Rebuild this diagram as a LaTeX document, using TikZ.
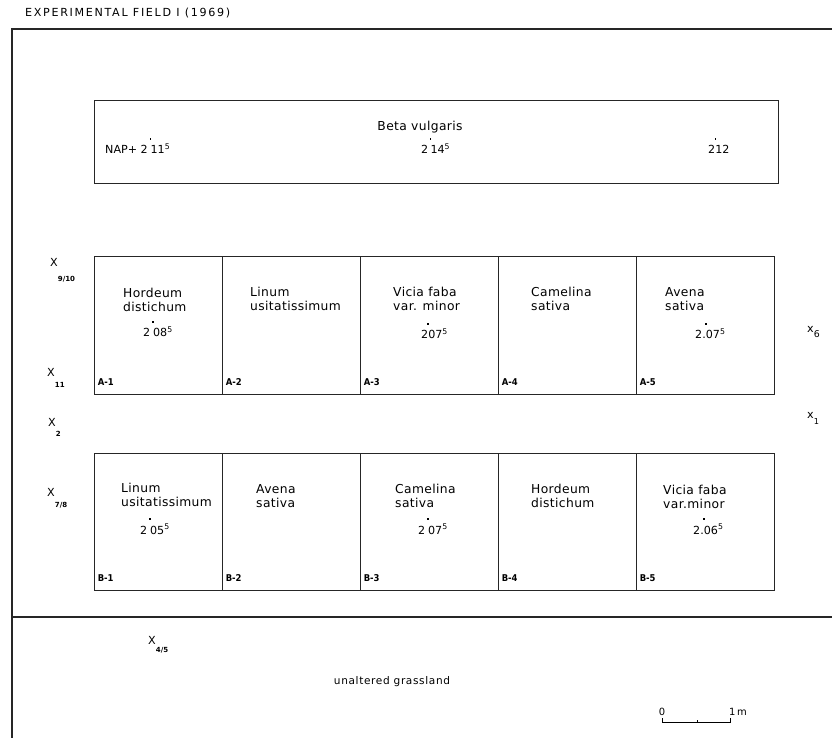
\documentclass[tikz,border=0pt]{standalone}
\usepackage{fontspec}
\setmainfont{DejaVu Sans}
\newfontfamily\condfont{DejaVu Sans Condensed}
\usetikzlibrary{positioning}
\newcommand\hdot{\makebox[0pt]{\raisebox{1.3em}{\rule{1.4pt}{1.4pt}}}}
\newcommand\stn[3][1em]{#2\raisebox{-#1}{\bfseries\fontsize{6}{7}\selectfont #3}}

\begin{document}
\begin{tikzpicture}[x=0.03cm,y=-0.03cm]
      \tikzstyle{parcel}=[rectangle, draw=black!85, line width=0.8pt, inner sep=0pt, outer sep=0pt, minimum width=4.14cm, minimum height=4.14cm]
      \tikzstyle{crop}=[anchor=north west, align=left, inner sep=0pt, font=\fontsize{10.5}{12}\selectfont\addfontfeature{LetterSpace=3}]
      \tikzstyle{yield}=[anchor=base west, inner sep=0pt, font=\fontsize{9.5}{11}\selectfont]
      \tikzstyle{parcelid}=[anchor=south west, inner sep=0pt, font=\condfont\bfseries\fontsize{8}{9}\selectfont]
      \tikzstyle{station}=[anchor=base west, inner sep=0pt, font=\fontsize{9.5}{10}\selectfont]
      \tikzstyle{border}=[line width=0.9pt, draw=black!85]

      \useasboundingbox (0,0) rectangle (832,738);

      % field border
      \node[anchor=west, inner sep=0pt, font=\fontsize{9.5}{10}\selectfont\addfontfeature{LetterSpace=15}] (title) at (25,13) {EXPERIMENTAL FIELD I (1969)};
      \draw[border] (832,29) -- (12,29) -- (12,738);
      \draw[border] (12,617) -- (832,617);

      % beet strip
      \node[parcel, anchor=north west, minimum width=20.52cm, minimum height=2.49cm] (beta) at (94,100) {};
      \node[inner sep=0pt, font=\fontsize{10.5}{12}\selectfont\addfontfeature{LetterSpace=3}] (betaname) at (420,127) {Beta vulgaris};
      \node[yield] (nap1) at (105,154) {NAP+ 2\hspace{.25em}\hdot11\textsuperscript{5}};
      \node[yield] (nap2) at (421,154) {2\hspace{.2em}\hdot14\textsuperscript{5}};
      \node[yield] (nap3) at (708,154) {2\hdot12};

      % row A
      \node[parcel, anchor=north west, minimum width=3.84cm] (A1) at (94,256) {};
      \node[parcel, right=0pt of A1] (A2) {};
      \node[parcel, right=0pt of A2] (A3) {};
      \node[parcel, right=0pt of A3] (A4) {};
      \node[parcel, right=0pt of A4] (A5) {};

      % row B
      \node[parcel, anchor=north west, minimum width=3.84cm, minimum height=4.11cm] (B1) at (94,453) {};
      \node[parcel, minimum height=4.11cm, right=0pt of B1] (B2) {};
      \node[parcel, minimum height=4.11cm, right=0pt of B2] (B3) {};
      \node[parcel, minimum height=4.11cm, right=0pt of B3] (B4) {};
      \node[parcel, minimum height=4.11cm, right=0pt of B4] (B5) {};

      \node[parcelid] at ([xshift=3pt,yshift=7pt]A1.south west) {A-1};
      \node[parcelid] at ([xshift=3pt,yshift=7pt]A2.south west) {A-2};
      \node[parcelid] at ([xshift=3pt,yshift=7pt]A3.south west) {A-3};
      \node[parcelid] at ([xshift=3pt,yshift=7pt]A4.south west) {A-4};
      \node[parcelid] at ([xshift=3pt,yshift=7pt]A5.south west) {A-5};
      \node[parcelid] at ([xshift=3pt,yshift=7pt]B1.south west) {B-1};
      \node[parcelid] at ([xshift=3pt,yshift=7pt]B2.south west) {B-2};
      \node[parcelid] at ([xshift=3pt,yshift=7pt]B3.south west) {B-3};
      \node[parcelid] at ([xshift=3pt,yshift=7pt]B4.south west) {B-4};
      \node[parcelid] at ([xshift=3pt,yshift=7pt]B5.south west) {B-5};

      % crops and yields
      \node[crop] (cA1) at (123,288) {Hordeum\\distichum};
      \node[crop] (cA2) at (250,287) {Linum\\usitatissimum};
      \node[crop] (cA3) at (393,287) {Vicia faba\\var. minor};
      \node[crop] (cA4) at (531,287) {Camelina\\sativa};
      \node[crop] (cA5) at (665,287) {Avena\\sativa};
      \node[crop] (cB1) at (121,483) {Linum\\usitatissimum};
      \node[crop] (cB2) at (256,484) {Avena\\sativa};
      \node[crop] (cB3) at (395,484) {Camelina\\sativa};
      \node[crop] (cB4) at (531,484) {Hordeum\\distichum};
      \node[crop] (cB5) at (663,485) {Vicia faba\\var.minor};

      \node[yield] (yA1) at (143,337) {2\hspace{.25em}\hdot08\textsuperscript{5}};
      \node[yield] (yA3) at (421,339) {2\hdot07\textsuperscript{5}};
      \node[yield] (yA5) at (695,339) {2.\hdot07\textsuperscript{5}};
      \node[yield] (yB1) at (140,534) {2\hspace{.25em}\hdot05\textsuperscript{5}};
      \node[yield] (yB3) at (418,534) {2\hspace{.25em}\hdot07\textsuperscript{5}};
      \node[yield] (yB5) at (693,534) {2.\hdot06\textsuperscript{5}};

      % sampling points
      \node[station] (p910) at (50,267) {\stn[1.3em]{X}{9/10}};
      \node[station] (p11) at (47,377) {\stn[0.95em]{X}{11}};
      \node[station] (p2) at (48,427) {\stn[0.85em]{X}{2}};
      \node[station] (p78) at (47,496) {\stn[1em]{X}{7/8}};
      \node[station] (p6) at (807,333) {\stn[0.4em]{x}{\mdseries\fontsize{8}{9}\selectfont 6}};
      \node[station] (p1) at (807,419) {\stn[0.5em]{x}{\mdseries\fontsize{7}{8}\selectfont 1}};
      \node[station] (p45) at (148,644) {\stn[0.75em]{X}{4/5}};

      \node[inner sep=0pt, font=\fontsize{9}{10}\selectfont\addfontfeature{LetterSpace=6}] (grass) at (392,682) {unaltered grassland};

      % scale bar
      \coordinate (s0) at (662,722);
      \coordinate (sm) at (697,722);
      \coordinate (s1) at (730,722);
      \draw[line width=0.6pt] ([yshift=3pt]s0) -- (s0) -- (s1) -- ([yshift=3pt]s1);
      \draw[line width=0.6pt] (sm) -- ([yshift=1.5pt]sm);
      \node[anchor=south, inner sep=0pt, font=\fontsize{8.5}{9}\selectfont] (zero) at ([yshift=5pt]s0) {0};
      \node[anchor=south west, inner sep=0pt, font=\fontsize{8.5}{9}\selectfont] (onem) at ([xshift=-1pt,yshift=5pt]s1) {1\,m};
    \end{tikzpicture}
\end{document}
